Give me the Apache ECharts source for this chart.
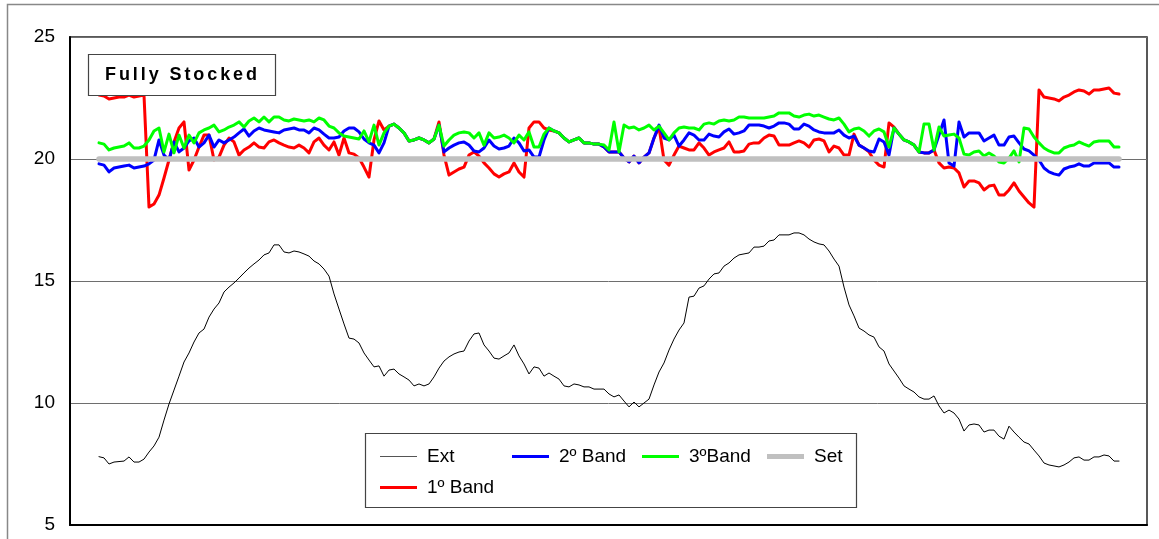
<!DOCTYPE html>
<html>
<head>
<meta charset="utf-8">
<script src="https://cdn.jsdelivr.net/npm/echarts@6/dist/echarts.min.js"></script>
<style>
  html, body { margin: 0; padding: 0; background: #fff; }
  #chart { width: 1159px; height: 539px; }
</style>
</head>
<body>
<div id="chart"></div>
<script>
// Temperature log: outside air, three shelf bands and the set point (°C)
const seriesNames = ['Ext', '1º Band', '2º Band', '3ºBand', 'Set'];
const yTicks = [5, 10, 15, 20, 25];
const setPointValue = 20;

const extTemp = [
  7.80, 7.75, 7.50, 7.58, 7.60, 7.62, 7.79, 7.58, 7.58, 7.70,
  7.99, 8.24, 8.60, 9.30, 9.96, 10.53, 11.10, 11.68, 12.05, 12.50,
  12.87, 13.03, 13.52, 13.85, 14.10, 14.55, 14.75, 14.92, 15.12, 15.33,
  15.53, 15.70, 15.86, 16.07, 16.15, 16.48, 16.48, 16.19, 16.15, 16.23,
  16.19, 16.11, 16.02, 15.82, 15.70, 15.49, 15.20, 14.47, 13.85, 13.24,
  12.66, 12.62, 12.46, 12.05, 11.76, 11.48, 11.52, 11.10, 11.35, 11.39,
  11.19, 11.07, 10.94, 10.70, 10.78, 10.70, 10.78, 11.07, 11.43, 11.72,
  11.89, 12.01, 12.09, 12.13, 12.54, 12.83, 12.87, 12.38, 12.13, 11.84,
  11.80, 11.93, 12.05, 12.38, 11.93, 11.60, 11.19, 11.48, 11.43, 11.10,
  11.23, 11.10, 10.98, 10.70, 10.66, 10.78, 10.74, 10.66, 10.66, 10.57,
  10.57, 10.57, 10.37, 10.25, 10.33, 10.08, 9.84, 10.04, 9.84, 10.00,
  10.16, 10.74, 11.27, 11.64, 12.17, 12.62, 12.99, 13.28, 14.34, 14.38,
  14.71, 14.80, 15.08, 15.29, 15.33, 15.61, 15.74, 15.94, 16.07, 16.11,
  16.15, 16.39, 16.39, 16.43, 16.64, 16.68, 16.89, 16.89, 16.89, 16.97,
  16.97, 16.89, 16.72, 16.60, 16.52, 16.48, 16.23, 15.90, 15.61, 14.75,
  14.02, 13.57, 13.07, 12.95, 12.79, 12.70, 12.30, 12.13, 11.60, 11.31,
  11.02, 10.70, 10.57, 10.45, 10.25, 10.16, 10.16, 10.29, 9.88, 9.59,
  9.71, 9.59, 9.34, 8.85, 9.10, 9.14, 9.10, 8.81, 8.89, 8.89,
  8.64, 8.52, 9.05, 8.81, 8.60, 8.40, 8.32, 8.07, 7.83, 7.54,
  7.46, 7.42, 7.38, 7.46, 7.58, 7.75, 7.79, 7.66, 7.66, 7.79,
  7.79, 7.87, 7.83, 7.62, 7.62
];

const band1 = [
  22.62, 22.58, 22.46, 22.50, 22.54, 22.54, 22.62, 22.54, 22.58, 22.62,
  18.03, 18.16, 18.52, 19.22, 19.96, 20.70, 21.27, 21.52, 19.55, 19.96,
  20.49, 20.98, 20.98, 19.96, 20.08, 20.57, 20.86, 20.70, 20.16, 20.37,
  20.49, 20.66, 20.49, 20.45, 20.70, 20.78, 20.66, 20.57, 20.49, 20.45,
  20.57, 20.45, 20.25, 20.70, 20.86, 20.57, 20.37, 20.70, 20.16, 20.86,
  20.25, 20.20, 20.04, 19.67, 19.26, 20.78, 21.56, 21.19, 21.35, 21.43,
  21.27, 21.07, 20.74, 20.78, 20.86, 20.78, 20.66, 20.82, 21.52, 20.16,
  19.34, 19.47, 19.59, 19.67, 20.16, 20.29, 20.12, 19.84, 19.63, 19.39,
  19.26, 19.39, 19.47, 19.84, 19.47, 19.26, 21.27, 21.52, 21.52, 21.27,
  21.19, 21.15, 21.07, 20.86, 20.70, 20.78, 20.86, 20.66, 20.66, 20.61,
  20.61, 20.49, 20.29, 20.29, 20.29, 20.04, 19.88, 20.12, 19.84, 20.08,
  20.25, 20.86, 21.31, 19.96, 19.75, 20.16, 20.53, 20.45, 20.37, 20.37,
  20.66, 20.45, 20.16, 20.29, 20.37, 20.45, 20.70, 20.29, 20.29, 20.33,
  20.61, 20.66, 20.66, 20.86, 20.98, 20.94, 20.57, 20.57, 20.57, 20.66,
  20.74, 20.66, 20.49, 20.78, 20.82, 20.74, 20.29, 20.53, 20.45, 20.16,
  20.16, 21.02, 20.57, 20.45, 20.29, 19.96, 19.75, 19.67, 21.48, 21.31,
  21.02, 20.78, 20.70, 20.57, 20.29, 20.25, 20.25, 20.37, 19.84, 19.63,
  19.67, 19.63, 19.43, 18.85, 19.10, 19.10, 19.02, 18.73, 18.89, 18.93,
  18.52, 18.52, 18.73, 19.02, 18.69, 18.44, 18.20, 18.03, 22.83, 22.54,
  22.50, 22.46, 22.38, 22.54, 22.62, 22.75, 22.83, 22.79, 22.66, 22.83,
  22.83, 22.87, 22.91, 22.70, 22.66
];

const band2 = [
  19.80, 19.75, 19.47, 19.63, 19.67, 19.71, 19.75, 19.63, 19.67, 19.71,
  19.80, 19.96, 20.78, 20.16, 19.96, 20.70, 20.29, 20.45, 20.74, 20.86,
  20.49, 20.66, 20.98, 20.49, 20.78, 20.66, 20.78, 20.90, 21.07, 21.23,
  20.94, 21.15, 21.27, 21.19, 21.15, 21.11, 21.07, 21.19, 21.23, 21.27,
  21.19, 21.19, 21.07, 21.27, 21.19, 21.02, 20.86, 20.86, 20.90, 21.15,
  21.27, 21.27, 21.11, 20.82, 20.66, 20.57, 20.25, 20.66, 21.35, 21.43,
  21.27, 21.07, 20.74, 20.78, 20.86, 20.78, 20.66, 20.82, 21.39, 20.29,
  20.45, 20.57, 20.66, 20.70, 20.57, 20.33, 20.29, 20.45, 20.78, 20.53,
  20.41, 20.45, 20.53, 20.86, 20.66, 20.33, 20.37, 20.08, 20.08, 20.78,
  21.27, 21.15, 21.07, 20.86, 20.70, 20.78, 20.86, 20.66, 20.66, 20.61,
  20.61, 20.49, 20.29, 20.29, 20.29, 20.04, 19.88, 20.12, 19.84, 20.08,
  20.25, 20.86, 21.39, 20.86, 20.78, 20.98, 20.53, 20.78, 21.07, 20.98,
  20.78, 20.78, 21.02, 20.94, 20.90, 21.11, 21.23, 21.02, 21.07, 21.15,
  21.39, 21.39, 21.39, 21.35, 21.27, 21.35, 21.48, 21.48, 21.43, 21.23,
  21.23, 21.43, 21.35, 21.19, 21.11, 21.07, 21.07, 21.07, 21.19, 20.98,
  20.86, 20.94, 20.57, 20.45, 20.33, 20.29, 20.82, 20.70, 20.16, 21.27,
  21.02, 20.78, 20.70, 20.57, 20.29, 20.25, 20.25, 20.37, 20.98, 21.60,
  19.84, 19.71, 21.52, 20.90, 21.07, 21.07, 21.07, 20.74, 20.86, 20.98,
  20.57, 20.57, 20.90, 20.94, 20.66, 20.41, 20.33, 20.16, 19.96, 19.63,
  19.47, 19.39, 19.34, 19.59, 19.67, 19.71, 19.80, 19.71, 19.71, 19.84,
  19.84, 19.84, 19.84, 19.67, 19.67
];

const band3 = [
  20.66, 20.61, 20.37, 20.45, 20.49, 20.53, 20.66, 20.45, 20.45, 20.53,
  20.78, 21.15, 21.27, 20.29, 21.02, 20.25, 20.98, 20.45, 20.98, 20.66,
  21.07, 21.19, 21.27, 21.39, 21.11, 21.19, 21.31, 21.39, 21.52, 21.31,
  21.56, 21.68, 21.52, 21.72, 21.52, 21.72, 21.72, 21.60, 21.56, 21.64,
  21.60, 21.56, 21.60, 21.52, 21.68, 21.60, 21.35, 21.27, 21.07, 20.94,
  20.90, 20.86, 20.82, 21.15, 20.70, 21.39, 20.57, 21.07, 21.35, 21.43,
  21.27, 21.07, 20.74, 20.78, 20.86, 20.78, 20.66, 20.82, 21.39, 20.53,
  20.78, 20.98, 21.07, 21.11, 21.07, 20.86, 21.07, 20.57, 21.07, 20.86,
  20.90, 20.98, 20.86, 20.66, 20.98, 20.78, 21.11, 20.49, 20.49, 21.02,
  21.27, 21.15, 21.07, 20.86, 20.70, 20.78, 20.86, 20.66, 20.66, 20.61,
  20.61, 20.57, 20.37, 21.52, 20.29, 21.39, 21.27, 21.31, 21.19, 21.27,
  21.39, 21.19, 21.35, 21.07, 20.78, 21.07, 21.27, 21.31, 21.27, 21.27,
  21.19, 21.43, 21.48, 21.43, 21.56, 21.60, 21.56, 21.60, 21.72, 21.72,
  21.68, 21.68, 21.68, 21.68, 21.72, 21.76, 21.89, 21.89, 21.89, 21.76,
  21.72, 21.80, 21.84, 21.76, 21.80, 21.72, 21.64, 21.60, 21.68, 21.43,
  21.11, 21.23, 21.27, 21.15, 20.94, 21.15, 21.23, 21.11, 20.49, 21.27,
  21.02, 20.78, 20.70, 20.57, 20.29, 21.43, 21.43, 20.37, 21.31, 20.94,
  20.98, 21.02, 20.86, 20.20, 20.16, 20.29, 20.33, 20.12, 20.25, 20.12,
  19.88, 19.84, 20.04, 20.33, 19.88, 21.27, 21.23, 20.90, 20.66, 20.45,
  20.33, 20.25, 20.25, 20.45, 20.53, 20.57, 20.70, 20.61, 20.53, 20.70,
  20.74, 20.74, 20.74, 20.49, 20.49
];

const FONT = 'Arial, "Liberation Sans", sans-serif';
const indexed = arr => arr.map((v, i) => [i, v]);
const setLine = band1.map(() => setPointValue);

const chart = echarts.init(document.getElementById('chart'), null, { renderer: 'canvas' });

// Spaced bold caption inside the framed label box
function spacedCaption(text, left, right, cy, font) {
  const ctx = document.createElement('canvas').getContext('2d');
  ctx.font = font;
  const widths = Array.from(text).map(ch => ctx.measureText(ch).width);
  const total = widths.reduce((a, b) => a + b, 0);
  const gap = (right - left - total) / (widths.length - 1);
  let x = left;
  return Array.from(text).map((ch, i) => {
    const el = {
      type: 'text', z: 101, silent: true,
      style: { text: ch, x: x, y: cy, font: font, fill: '#000', align: 'left', verticalAlign: 'middle' }
    };
    x += widths[i] + gap;
    return el;
  });
}

// Legend swatches: one slot per entry, laid out in two rows
const legendRowY = [455, 486];
const legendSlots = [
  { name: 'Ext', x: 380, row: 0, stroke: 1.2, color: '#555' },
  { name: '2º Band', x: 512, row: 0, stroke: 3, color: '#0000ff' },
  { name: '3ºBand', x: 642, row: 0, stroke: 3, color: '#00ff00' },
  { name: 'Set', x: 767, row: 0, stroke: 5, color: '#c0c0c0' },
  { name: '1º Band', x: 380, row: 1, stroke: 3, color: '#ff0000' }
];

const lineSeries = (name, data, color, width, z) => ({
  name: name, type: 'line', data: indexed(data), z: z,
  showSymbol: false, symbol: 'none', animation: false,
  lineStyle: { color: color, width: width, cap: 'round', join: 'round' },
  itemStyle: { color: color },
  emphasis: { disabled: true }
});

const option = {
  animation: false,
  backgroundColor: '#fff',
  grid: { left: 70, right: 12, top: 37, bottom: 14, show: true, borderColor: '#222', borderWidth: 1.5 },
  xAxis: {
    type: 'value', min: -5.8, max: 209.6,
    axisLine: { show: true, onZero: false, lineStyle: { color: '#000', width: 2 } },
    axisTick: { show: false }, axisLabel: { show: false }, splitLine: { show: false }
  },
  yAxis: {
    type: 'value', min: yTicks[0], max: yTicks[yTicks.length - 1], interval: 5,
    axisLine: { show: true, onZero: false, lineStyle: { color: '#000', width: 2 } },
    axisTick: { show: false },
    axisLabel: { fontSize: 19, color: '#000', margin: 15, fontFamily: FONT },
    splitLine: { show: true, lineStyle: { color: '#6e6e6e', width: 1 } }
  },
  legend: legendSlots.map(s => ({
    data: [{ name: s.name, icon: 'rect', itemStyle: { color: s.color } }],
    left: s.x, top: legendRowY[s.row] - 8, padding: 0,
    itemWidth: 37, itemHeight: s.stroke, selectedMode: false, z: 20,
    textStyle: { fontSize: 19, color: '#000', fontFamily: FONT, padding: [0, 0, 0, 5] }
  })),
  graphic: [
    { type: 'rect', z: 0, silent: true, shape: { x: 7.5, y: 4.5, width: 1300, height: 700 },
      style: { fill: 'none', stroke: '#888', lineWidth: 1.5 } },
    { type: 'rect', z: 100, silent: true, shape: { x: 88.5, y: 54.5, width: 187, height: 41 },
      style: { fill: '#fff', stroke: '#444', lineWidth: 1.2 } },
    ...spacedCaption('Fully Stocked', 105, 257, 75, 'bold 18px ' + FONT),
    { type: 'rect', z: 10, silent: true, shape: { x: 365.5, y: 433.5, width: 491, height: 74 },
      style: { fill: '#fff', stroke: '#444', lineWidth: 1.2 } }
  ],
  series: [
    lineSeries('1º Band', band1, '#ff0000', 3, 3),
    lineSeries('2º Band', band2, '#0000ff', 3, 4),
    lineSeries('3ºBand', band3, '#00ff00', 3, 5),
    lineSeries('Set', setLine, '#c0c0c0', 5.5, 6),
    lineSeries('Ext', extTemp, '#000000', 1, 7)
  ]
};

chart.setOption(option);
</script>
</body>
</html>
